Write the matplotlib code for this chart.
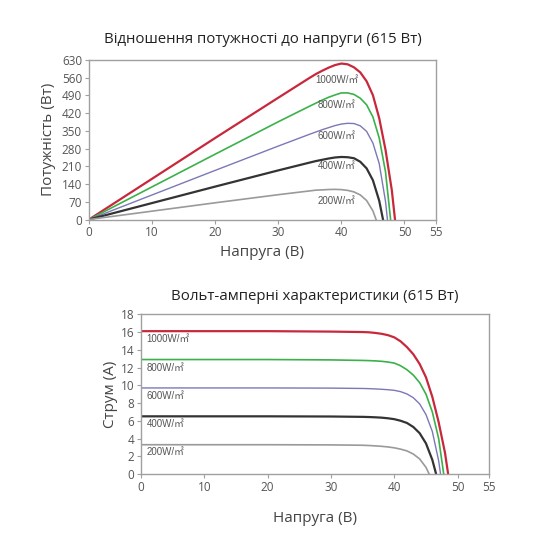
import matplotlib
matplotlib.use("Agg")
import matplotlib.pyplot as plt

# irradiance levels
labels = ["1000W/㎡", "800W/㎡", "600W/㎡", "400W/㎡", "200W/㎡"]
colors = ["#c8283c", "#3bb14a", "#7b78b6", "#333333", "#9a9a9a"]
widths = [1.6, 1.2, 1.0, 1.6, 1.2]

# voltage / current / power
v_1000 = [0, 10, 20, 30, 35, 36, 37, 38, 39, 40, 41, 42, 43, 44, 45, 46, 47, 48, 48.5]
i_1000 = [16.1, 16.1, 16.1, 16.05, 16.0, 15.97, 15.9, 15.8, 15.65, 15.4, 14.95, 14.3,
          13.5, 12.4, 10.9, 8.7, 5.85, 2.4, 0]
p_1000 = [0, 161, 322, 481, 560, 575, 588, 600, 610, 616, 613, 601, 581, 546, 491,
          400, 275, 115, 0]

v_800 = [0, 10, 20, 30, 35, 36, 37, 38, 39, 40, 41, 42, 43, 44, 45, 46, 47, 47.8]
i_800 = [12.9, 12.9, 12.9, 12.86, 12.8, 12.78, 12.75, 12.7, 12.62, 12.5, 12.2, 11.75,
         11.15, 10.3, 9.0, 7.0, 4.0, 0]
p_800 = [0, 129, 258, 386, 448, 460, 472, 483, 492, 500, 500, 494, 479, 453, 405,
         322, 188, 0]

v_600 = [0, 10, 20, 30, 35, 36, 37, 38, 39, 40, 41, 42, 43, 44, 45, 46, 47, 47.3]
i_600 = [9.7, 9.7, 9.7, 9.68, 9.64, 9.62, 9.59, 9.55, 9.5, 9.43, 9.28, 9.02, 8.6,
         7.9, 6.7, 4.8, 1.5, 0]
p_600 = [0, 97, 194, 290, 337, 346, 355, 363, 371, 377, 380, 379, 370, 348, 302,
         221, 71, 0]

v_400 = [0, 10, 20, 30, 35, 36, 37, 38, 39, 40, 41, 42, 43, 44, 45, 46, 46.6]
i_400 = [6.5, 6.5, 6.5, 6.48, 6.44, 6.42, 6.39, 6.35, 6.28, 6.18, 6.0, 5.75, 5.3,
         4.6, 3.45, 1.6, 0]
p_400 = [0, 65, 130, 194, 225, 231, 236, 241, 245, 247, 246, 242, 228, 202, 155,
         74, 0]

v_200 = [0, 10, 20, 30, 35, 36, 37, 38, 39, 40, 41, 42, 43, 44, 45, 45.5]
i_200 = [3.3, 3.3, 3.3, 3.28, 3.24, 3.21, 3.17, 3.12, 3.05, 2.95, 2.8, 2.6, 2.25,
         1.7, 0.75, 0]
p_200 = [0, 33, 66, 98, 113, 116, 117, 118.5, 119, 118, 115, 109, 97, 75, 34, 0]

volts = [v_1000, v_800, v_600, v_400, v_200]
amps = [i_1000, i_800, i_600, i_400, i_200]
watts = [p_1000, p_800, p_600, p_400, p_200]

# label anchor values
p_label_x = [39.3, 39.3, 39.3, 39.3, 39.3]
p_label_y = [551, 453, 331, 213, 75]
i_label_x = [0.9, 0.9, 0.9, 0.9, 0.9]
i_label_y = [15.2, 12.0, 8.8, 5.6, 2.5]

p_ticks = [0, 70, 140, 210, 280, 350, 420, 490, 560, 630]
i_ticks = [0, 2, 4, 6, 8, 10, 12, 14, 16, 18]
v_ticks = [0, 10, 20, 30, 40, 50, 55]

plt.rcParams['font.family'] = ['Open Sans', 'DejaVu Sans']
label_font = ["Liberation Sans", "Noto Sans CJK SC", "DejaVu Sans"]

fig = plt.figure(figsize=(5.5, 5.5), dpi=100)
ax1 = fig.add_axes([89 / 550, 1 - 219.5 / 550, 347 / 550, 159.5 / 550])
ax2 = fig.add_axes([141 / 550, 1 - 474 / 550, 348.3 / 550, 159.7 / 550])


def style(ax):
    for s in ax.spines.values():
        s.set_color("#a0a0a0")
        s.set_linewidth(1.0)
    ax.tick_params(colors="#a0a0a0", labelcolor="#555555", labelsize=8.5,
                   length=3, width=0.8, pad=2)
    ax.set_xlim(0, 55)
    ax.set_xticks(v_ticks)


for v, p, c, w in zip(volts, watts, colors, widths):
    ax1.plot(v, p, color=c, lw=w)
for x, y, t in zip(p_label_x, p_label_y, labels):
    ax1.text(x, y, t, ha="center", va="center", fontsize=7, color="#555555",
             family=label_font)
style(ax1)
ax1.set_ylim(0, 630)
ax1.set_yticks(p_ticks)
ax1.set_title("Відношення потужності до напруги (615 Вт)", fontsize=10.8,
              color="#222222", pad=12)
ax1.set_xlabel("Напруга (В)", fontsize=11, color="#444444", labelpad=4)
ax1.set_ylabel("Потужність (Вт)", fontsize=11, color="#444444", labelpad=4)

for v, i, c, w in zip(volts, amps, colors, widths):
    ax2.plot(v, i, color=c, lw=w)
for x, y, t in zip(i_label_x, i_label_y, labels):
    ax2.text(x, y, t, ha="left", va="center", fontsize=7, color="#555555",
             family=label_font)
style(ax2)
ax2.set_ylim(0, 18)
ax2.set_yticks(i_ticks)
ax2.set_title("Вольт-амперні характеристики (615 Вт)", fontsize=10.8,
              color="#222222", pad=10)
ax2.set_xlabel("Напруга (В)", fontsize=11, color="#444444", labelpad=12)
ax2.set_ylabel("Струм (А)", fontsize=11, color="#444444", labelpad=2)

fig.savefig("out.png", dpi=100)
